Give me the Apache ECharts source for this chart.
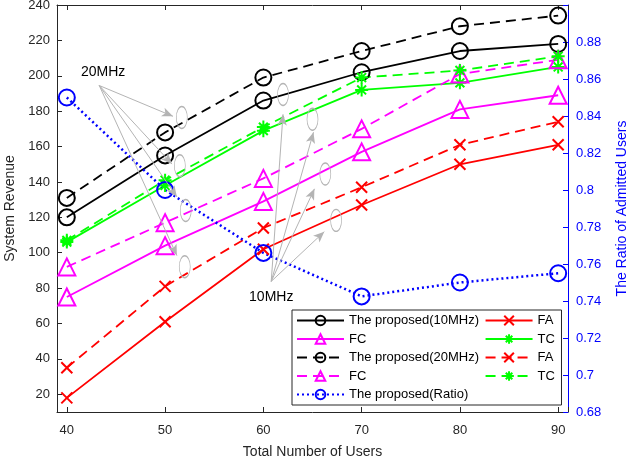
<!DOCTYPE html>
<html><head><meta charset="utf-8">
<script src="https://cdn.jsdelivr.net/npm/echarts@6/dist/echarts.min.js"></script>
<style>html,body{margin:0;padding:0;background:#fff}#c{width:632px;height:460px}</style>
</head><body><div id="c"></div>
<script>
// ---- data ----
const users = [40, 50, 60, 70, 80, 90];
const proposed10 = [120, 155, 186, 202, 214, 218];
const proposed20 = [131, 168, 199, 214, 228, 234];
const fa10 = [18, 61, 102, 127, 150, 161];
const fa20 = [35, 81, 114, 137, 161, 174];
const fc10 = [75, 104, 129, 157, 181, 189];
const fc20 = [92, 117, 142, 170, 201, 209];
const tc10 = [106, 138, 169, 192, 196, 205];
const tc20 = [107, 141, 171, 199, 203, 211];
const ratio = [0.85, 0.80, 0.766, 0.7425, 0.75, 0.755];
const legendOrder = ['The proposed(10MHz)', 'FC', 'The proposed(20MHz)', 'FC ', 'The proposed(Ratio)', 'FA', 'TC', 'FA ', 'TC '];

// annotation anchors (data coordinates)
const label20 = [43.7, 201.8];
const arrow20Start = [43.3, 194.5];
const arrow20Ends = [[50.8, 177.1], [50.7, 150.1], [51.2, 131.6], [51.2, 98.4]];
const ellipse20 = [[51.7, 176.4], [51.5, 149.2], [52.1, 123.9], [52.0, 92.1]];
const label10 = [60.8, 74.7];
const arrow10Start = [60.8, 83.8];
const arrow10Ends = [[62.0, 178.2], [65.1, 168.1], [65.2, 136.1], [66.2, 111.9]];
const ellipse10 = [[62.0, 189.4], [65.0, 175.4], [66.3, 144.5], [67.4, 118.3]];

// ---- styles ----
const FONT = '"Liberation Sans", Arial, Helvetica, sans-serif';
const AX = '#262626';
const GRAY = '#b4b4b4';
const X_SYM = 'path://M0,0L10,10M10,0L0,10';
const STAR_SYM = 'path://M5,0L5,10M0,5L10,5M1.6,1.6L8.4,8.4M8.4,1.6L1.6,8.4';
const pair = arr => users.map((u, i) => [u, arr[i]]);

function mk(name, arr, color, dashed, symbol, size, hollow, yIdx) {
  return {
    type: 'line', name, data: pair(arr), yAxisIndex: yIdx || 0,
    symbol, symbolSize: size, showAllSymbol: true,
    lineStyle: { color, width: 1.8, type: dashed === 'dot' ? [2, 3] : (dashed ? [10, 6] : 'solid') },
    itemStyle: { color: hollow ? 'rgba(0,0,0,0)' : color, borderColor: color, borderWidth: 2 },
    emphasis: { disabled: true }, silent: true, z: 3
  };
}

const series = [
  mk('The proposed(10MHz)', proposed10, '#000000', false, 'circle', 16, true),
  mk('FA', fa10, '#ff0000', false, X_SYM, 11, false),
  mk('FC', fc10, '#ff00ff', false, 'triangle', 17, true),
  mk('TC', tc10, '#00ff00', false, STAR_SYM, 13, false),
  mk('The proposed(20MHz)', proposed20, '#000000', true, 'circle', 16, true),
  mk('FA ', fa20, '#ff0000', true, X_SYM, 11, false),
  mk('FC ', fc20, '#ff00ff', true, 'triangle', 17, true),
  mk('TC ', tc20, '#00ff00', true, STAR_SYM, 13, false),
  mk('The proposed(Ratio)', ratio, '#0000ff', 'dot', 'circle', 16, true, 1)
];
series[8].lineStyle.width = 2.5;

const ellipseItem = c => ({ coord: c, symbol: 'circle', symbolSize: [11, 22],
  itemStyle: { color: 'rgba(0,0,0,0)', borderColor: GRAY, borderWidth: 1 }, label: { show: false } });
const textItem = (c, t) => ({ coord: c, symbol: 'circle', symbolSize: 1,
  itemStyle: { color: 'rgba(0,0,0,0)' },
  label: { show: true, position: 'inside', formatter: t, color: '#000', fontSize: 14, fontFamily: FONT } });

series.push({
  type: 'line', name: 'annot', data: [], yAxisIndex: 0, silent: true, symbol: 'none',
  markLine: {
    silent: true, symbol: ['none', 'arrow'], symbolSize: [7, 11], animation: false,
    lineStyle: { color: GRAY, width: 1, type: 'solid' }, label: { show: false },
    emphasis: { disabled: true },
    data: arrow20Ends.map(e => [{ coord: arrow20Start }, { coord: e }])
      .concat(arrow10Ends.map(e => [{ coord: arrow10Start }, { coord: e }]))
  },
  markPoint: {
    silent: true, animation: false,
    data: ellipse20.map(ellipseItem).concat(ellipse10.map(ellipseItem))
      .concat([textItem(label20, '20MHz'), textItem(label10, '10MHz')])
  }
});

const chart = echarts.init(document.getElementById('c'));
chart.setOption({
  animation: false,
  backgroundColor: '#fff',
  textStyle: { fontFamily: FONT },
  grid: { left: 57, right: 64, top: 5, bottom: 48, containLabel: false, outerBoundsMode: 'none' },
  legend: {
    orient: 'vertical', left: 292, top: 310, height: 90,
    padding: [4, 3, 4, 4], itemGap: 5.5, itemWidth: 47, itemHeight: 12,
    backgroundColor: '#fff', borderColor: AX, borderWidth: 1, borderRadius: 0,
    selectedMode: false,
    textStyle: { fontSize: 13, lineHeight: 12, color: '#000', fontFamily: FONT },
    data: legendOrder
  },
  xAxis: [{
    type: 'value', min: 39, max: 91, position: 'bottom',
    axisLine: { onZero: false, lineStyle: { color: AX, width: 1 } },
    axisTick: { inside: true, length: 5, lineStyle: { color: AX } },
    axisLabel: { color: AX, fontSize: 13, fontFamily: FONT, margin: 12,
      formatter: v => (Math.abs(v % 10) < 1e-6 ? String(v) : '') },
    splitLine: { show: false },
    name: 'Total Number of Users', nameLocation: 'middle', nameGap: 33,
    nameTextStyle: { color: AX, fontSize: 14, fontFamily: FONT }
  }, {
    type: 'value', min: 39, max: 91, position: 'top',
    axisLine: { onZero: false, lineStyle: { color: AX, width: 1 } },
    axisTick: { inside: true, length: 5, lineStyle: { color: AX } },
    axisLabel: { show: false }, splitLine: { show: false }
  }],
  yAxis: [{
    type: 'value', min: 10, max: 240, splitNumber: 11, position: 'left',
    axisLine: { show: true, onZero: false, lineStyle: { color: AX, width: 1 } },
    axisTick: { show: true, inside: true, length: 5, lineStyle: { color: AX } },
    axisLabel: { color: AX, fontSize: 13, fontFamily: FONT, margin: 7,
      formatter: v => (Math.abs(v % 20) < 1e-6 ? String(v) : '') },
    splitLine: { show: false },
    name: 'System Revenue', nameLocation: 'middle', nameGap: 40,
    nameTextStyle: { color: AX, fontSize: 14, fontFamily: FONT }
  }, {
    type: 'value', min: 0.68, max: 0.9, interval: 0.02, position: 'right',
    axisLine: { show: true, onZero: false, lineStyle: { color: '#0000ff', width: 1 } },
    axisTick: { show: true, inside: true, length: 5, lineStyle: { color: '#0000ff' } },
    axisLabel: { color: '#0000ff', fontSize: 13, fontFamily: FONT, margin: 8,
      formatter: v => (v > 0.895 ? '' : String(+v.toFixed(2))) },
    splitLine: { show: false },
    name: 'The Ratio of Admitted Users', nameLocation: 'middle', nameGap: 47,
    nameRotate: 90,
    nameTextStyle: { color: '#0000ff', fontSize: 14, fontFamily: FONT }
  }],
  series
});
</script>
</body></html>
